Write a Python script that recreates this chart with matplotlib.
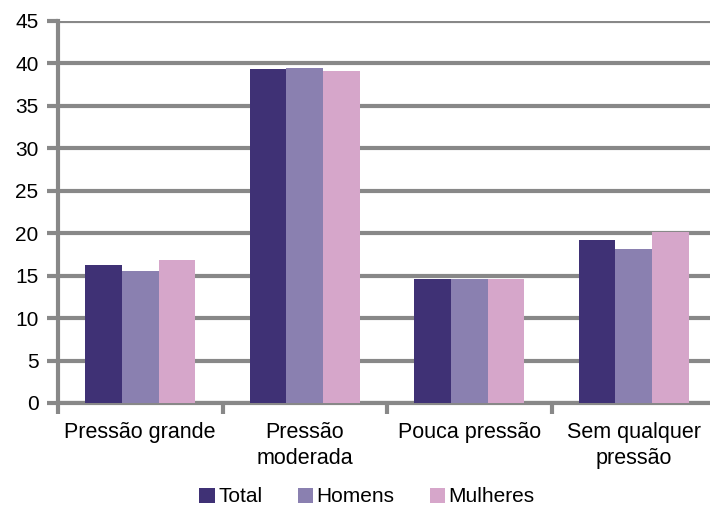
import numpy as np
import matplotlib.pyplot as plt

categories = ["Pressão grande", "Pressão\nmoderada", "Pouca pressão", "Sem qualquer\npressão"]
total = [16.3, 39.3, 14.6, 19.2]
homens = [15.5, 39.5, 14.6, 18.2]
mulheres = [16.8, 39.1, 14.6, 20.2]
series = ["Total", "Homens", "Mulheres"]
colors = ["#3f3175", "#8a80b0", "#d6a6ca"]
yticks = list(range(0, 50, 5))

plt.rcParams['font.family'] = ['Liberation Sans', 'DejaVu Sans']

fig = plt.figure(figsize=(7.1, 5.09), dpi=100)
ax = fig.add_axes([58 / 710, 1 - 403 / 509, 658 / 710, 382 / 509])

x = np.arange(len(categories))
w = 0.222
for i, (vals, name, c) in enumerate(zip([total, homens, mulheres], series, colors)):
    ax.bar(x + (i - 1) * w, vals, w, color=c, label=name, zorder=3)

ax.set_xlim(-0.5, len(categories) - 0.5)
ax.set_ylim(0, 45)
ax.set_yticks(yticks)
ax.yaxis.grid(True, color="#888888", linewidth=3, zorder=0)
ax.set_axisbelow(True)

# category boundary ticks on x axis
ax.set_xticks(np.arange(len(categories) + 1) - 0.5)
ax.set_xticklabels([])
ax.set_xticks(x, minor=True)
ax.set_xticklabels(categories, minor=True, fontsize=15.5, linespacing=1.3)
ax.tick_params(axis="x", which="minor", length=0, pad=14)
ax.tick_params(axis="x", which="major", length=8, width=3, color="#888888")
ax.tick_params(axis="y", length=8, width=3, color="#888888", labelsize=15, pad=6)

for s in ["top", "right"]:
    ax.spines[s].set_visible(False)
for s in ["left", "bottom"]:
    ax.spines[s].set_color("#888888")
    ax.spines[s].set_linewidth(3)

fig.legend(loc="center", bbox_to_anchor=(0.517, 1 - 497 / 509), ncol=3, frameon=False,
           fontsize=15, handlelength=0.75, handleheight=0.75, handletextpad=0.15,
           columnspacing=1.7)

fig.savefig("out.png", dpi=100)
